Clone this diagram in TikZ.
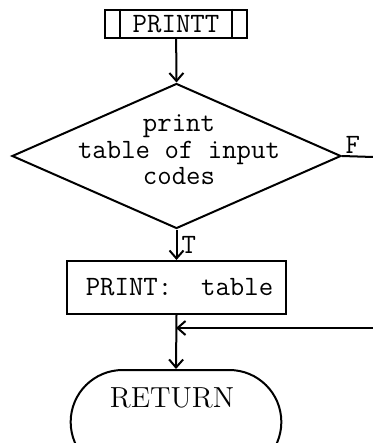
\documentclass[tikz,border=0pt]{standalone}
\usetikzlibrary{shapes.geometric,shapes.misc,arrows.meta}
\tikzset{
  flow/.style={line width=1pt},
  arr/.style={flow, -{Straight Barb[length=4pt,width=7pt]}},
  tt/.style={font=\ttfamily\fontsize{14}{13.3}\selectfont},
  card/.style={draw, flow, tt, inner sep=0pt},
}
\begin{document}
\begin{tikzpicture}[x=0.5pt, y=-0.5pt]
  \useasboundingbox (0,0) rectangle (373,443);
  \node[card, minimum width=71pt, minimum height=14pt] (entry) at (176,24) {PRINTT};
  \draw[flow] ([xshift=8pt]entry.north west) -- ([xshift=8pt]entry.south west)
    ([xshift=-8pt]entry.north east) -- ([xshift=-8pt]entry.south east); % subroutine bars
  \node[diamond, draw, flow, inner sep=0pt, minimum width=164.5pt, minimum height=72.5pt] (test) at (176.5,156) {};
  \node[tt, align=center] (testtext) at (179,150) {print\\table of input\\codes};
  \node[card, minimum width=109.5pt, minimum height=26.5pt] (table) at (176.5,287.5) {\hspace{3pt}PRINT:~~table};
  \node[rounded rectangle, draw, flow, minimum width=112pt, minimum height=52pt] (stop) at (176,422) {};
  \node[font=\fontsize{14.5}{16}\selectfont] (stoptext) at (172,398) {RETURN};
  \coordinate (fout) at (373,157);
  \coordinate (fin) at (373,328);
  \draw[arr] (entry) -- (test.north);
  \draw[arr] (test.south) -- node[right, tt, inner sep=2pt] {T} (table.north);
  \draw[flow] (test.east) -- node[above, pos=0.35, tt, inner sep=1pt] {F} (fout);
  \draw[arr] (fin) -- (fin -| stop.north);
  \draw[arr] (table.south) -- (stop.north);
\end{tikzpicture}
\end{document}
